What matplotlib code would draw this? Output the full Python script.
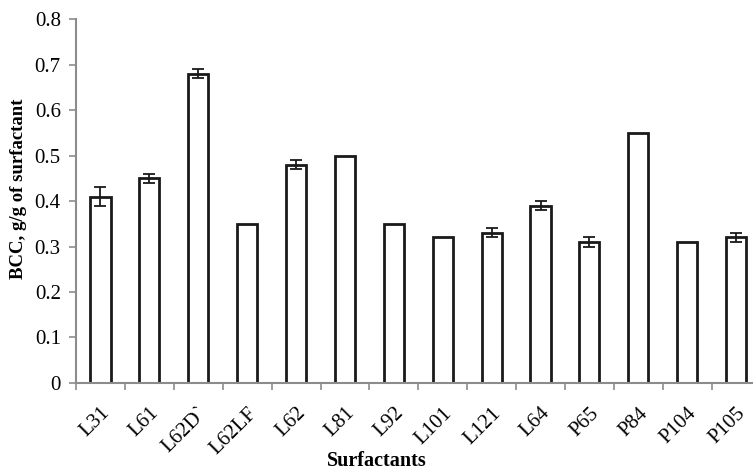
import numpy as np
import matplotlib.pyplot as plt
from matplotlib.ticker import FixedLocator

surfactants = ['L31', 'L61', 'L62D`', 'L62LF', 'L62', 'L81', 'L92', 'L101',
               'L121', 'L64', 'P65', 'P84', 'P104', 'P105']
bcc = [0.41, 0.45, 0.68, 0.35, 0.48, 0.50, 0.35, 0.32, 0.33, 0.39, 0.31, 0.55, 0.31, 0.32]
err = [0.02, 0.01, 0.01, 0, 0.01, 0, 0, 0, 0.01, 0.01, 0.01, 0, 0, 0.01]

plt.rcParams['font.family'] = 'Liberation Serif'
axis_gray = '#8c8c8c'

fig = plt.figure(figsize=(7.53, 4.71), dpi=100)
ax = fig.add_axes([0.101, 0.187, 0.909, 0.772])

x = np.arange(len(surfactants))
yerr = [e if e > 0 else np.nan for e in err]
ax.bar(x, bcc, width=0.41, color='white', edgecolor='#1a1a1a', linewidth=2, zorder=2)
ax.errorbar(x, bcc, yerr=yerr, fmt='none', ecolor='#1a1a1a', elinewidth=1.3,
            capsize=4, capthick=1.3, zorder=3)

ax.set_xlim(-0.5, len(surfactants) - 0.5)
ax.set_ylim(0, 0.8)
ax.set_yticks(np.arange(0, 0.81, 0.1))
ax.set_yticklabels(['0'] + ['%.1f' % v for v in np.arange(0.1, 0.81, 0.1)])

ax.set_xticks(x)
ax.set_xticklabels(surfactants, rotation=45, ha='right', rotation_mode='anchor')
ax.xaxis.set_minor_locator(FixedLocator(np.arange(-0.5, len(surfactants), 1)))
ax.tick_params(axis='x', which='major', length=0, pad=15, labelsize=15)
ax.tick_params(axis='x', which='minor', length=5, color=axis_gray, width=1.2)
ax.tick_params(axis='y', length=5, color=axis_gray, width=1.2, labelsize=15, pad=6)

for s in ['top', 'right']:
    ax.spines[s].set_visible(False)
for s in ['left', 'bottom']:
    ax.spines[s].set_color(axis_gray)
    ax.spines[s].set_linewidth(1.5)
    ax.spines[s].set_zorder(4)

ax.set_ylabel('BCC, g/g of surfactant', fontsize=13.5, fontweight='bold')
ax.yaxis.set_label_coords(-0.071, 0.534)
ax.set_xlabel('Surfactants', fontsize=14.5, fontweight='bold', va='center')
ax.xaxis.set_label_coords(0.44, -0.215)

fig.savefig('out.png', dpi=100)
